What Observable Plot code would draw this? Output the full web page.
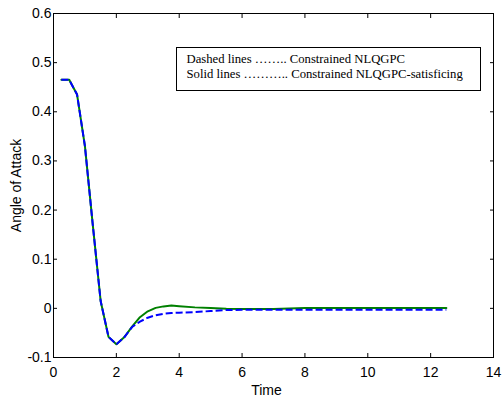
<!DOCTYPE html>
<html><head><meta charset="utf-8">
<script src="https://cdn.jsdelivr.net/npm/d3@7"></script>
<script src="https://cdn.jsdelivr.net/npm/@observablehq/plot@0.6"></script>
<style>body{margin:0;background:#fff}</style>
</head><body><div id="chart"></div>
<script>
const time = [0.25,0.5,0.75,1,1.25,1.5,1.75,2,2.25,2.5,2.75,3,3.25,3.5,3.75,4,4.5,5,5.5,6,7,8,9,10,11,12,12.5];
const satisficing = [0.465,0.465,0.435,0.33,0.17,0.015,-0.058,-0.073,-0.059,-0.037,-0.018,-0.006,0.001,0.004,0.006,0.0045,0.002,0.0005,-0.001,-0.0015,-0.0015,0.0005,0.0005,0.0005,0.0005,0.0005,0.0005];
const constrained = [0.465,0.465,0.435,0.33,0.17,0.015,-0.058,-0.073,-0.059,-0.038,-0.027,-0.019,-0.014,-0.011,-0.0095,-0.0088,-0.0075,-0.0055,-0.0035,-0.003,-0.003,-0.003,-0.003,-0.003,-0.003,-0.003,-0.003];
const xTicks = [0,2,4,6,8,10,12,14];
const yTicks = [-0.1,0,0.1,0.2,0.3,0.4,0.5,0.6];
const legendLines = ["Dashed lines …….. Constrained NLQGPC", "Solid lines ……….. Constrained NLQGPC-satisficing"];
const xLabel = "Time";
const yLabel = "Angle of Attack";

const solidData = time.map((t, i) => ({t, v: satisficing[i]}));
const dashedData = time.map((t, i) => ({t, v: constrained[i]}));
const fmt = d => d === 0 ? "0" : String(d);
const blank = () => "";

const plot = Plot.plot({
  width: 502, height: 400,
  marginLeft: 53, marginRight: 9, marginTop: 13, marginBottom: 43,
  x: {domain: [0, 14], label: null},
  y: {domain: [-0.1, 0.6], label: null},
  style: {fontFamily: "'Liberation Sans', Arial, sans-serif", fontSize: "14px", color: "black", background: "white", overflow: "visible"},
  marks: [
    Plot.line(solidData, {x: "t", y: "v", stroke: "#008000", strokeWidth: 2}),
    Plot.line(dashedData, {x: "t", y: "v", stroke: "#0000ff", strokeWidth: 2, strokeDasharray: "7,3", strokeLinecap: "butt"}),
    Plot.frame({stroke: "black", strokeWidth: 1}),
    Plot.axisX({anchor: "bottom", ticks: xTicks, tickSize: -4, tickFormat: blank}),
    Plot.axisX({anchor: "top", ticks: xTicks, tickSize: -4, tickFormat: blank}),
    Plot.axisY({anchor: "left", ticks: yTicks, tickSize: -4, tickFormat: blank}),
    Plot.axisY({anchor: "right", ticks: yTicks, tickSize: -4, tickFormat: blank}),
    Plot.axisX({anchor: "bottom", ticks: xTicks, tickSize: 0, tickPadding: 10, tickFormat: fmt, fill: "black"}),
    Plot.axisY({anchor: "left", ticks: yTicks, tickSize: 0, tickPadding: 2, tickFormat: fmt, fill: "black"}),
    Plot.text([xLabel], {text: d => d, frameAnchor: "bottom", textAnchor: "middle", lineAnchor: "middle", dy: 33.5, dx: -7, fill: "black"}),
    Plot.text([yLabel], {text: d => d, frameAnchor: "left", textAnchor: "middle", lineAnchor: "middle", rotate: -90, dx: -37, fill: "black"})
  ]
});

const svg = d3.select(plot);
const g = svg.append("g").attr("text-anchor", "start");
g.append("rect").attr("x", 176.5).attr("y", 47.5).attr("width", 304).attr("height", 43)
  .attr("fill", "white").attr("stroke", "black").attr("stroke-width", 1);
g.selectAll("text.leg").data(legendLines).join("text").attr("class", "leg")
  .attr("x", 186.5).attr("y", (d, i) => 63 + i * 14.5)
  .attr("text-anchor", "start")
  .attr("font-family", "'Liberation Serif', 'Times New Roman', serif")
  .attr("font-size", 12.7).attr("fill", "black").text(d => d);

document.getElementById("chart").appendChild(plot);
</script>
</body></html>
